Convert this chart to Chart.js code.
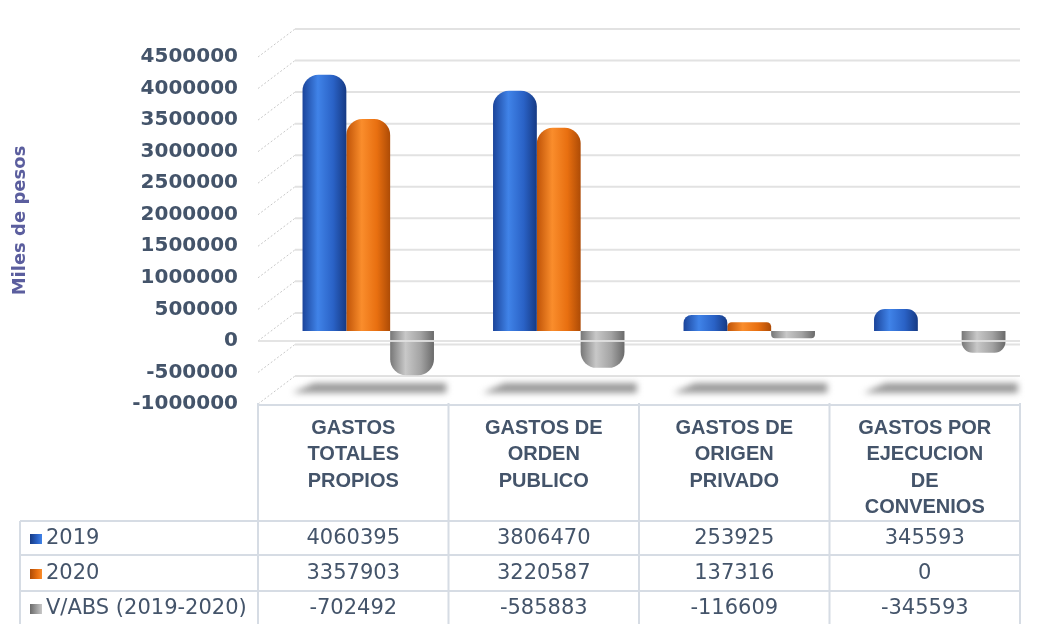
<!DOCTYPE html>
<html>
<head>
<meta charset="utf-8">
<script src="https://cdn.jsdelivr.net/npm/chart.js@4.4.1/dist/chart.umd.min.js"></script>
<style>
  html, body { margin: 0; padding: 0; background: #ffffff; }
  #wrap { width: 1041px; height: 624px; position: relative; }
</style>
</head>
<body>
<div id="wrap"><canvas id="chart-gastos" width="1041" height="624"></canvas></div>
<script>
/* ── Data ─────────────────────────────────────────────────────── */
const categories = [
    ["GASTOS", "TOTALES", "PROPIOS"],
    ["GASTOS DE", "ORDEN", "PUBLICO"],
    ["GASTOS DE", "ORIGEN", "PRIVADO"],
    ["GASTOS POR", "EJECUCION", "DE", "CONVENIOS"],
];
const seriesNames = ["2019", "2020", "V/ABS (2019-2020)"];
const values2019 = [4060395, 3806470, 253925, 345593];
const values2020 = [3357903, 3220587, 137316, 0];
const valuesVabs = [-702492, -585883, -116609, -345593];
const yMin = -1000000;
const yMax = 4500000;
const yStep = 500000;

/* ── Look ─────────────────────────────────────────────────────── */
const TEXT = "#44546a";
const TITLE = "#5b5e9e";
const LINE = "#d6dce4";
const CAT_PCT = 0.69;
const DEPTH_X = 15;      // bar plane sits this far right of the front plane
const DEPTH_Y = 10;      // ... and this far up
const BACK_X = 22;       // back wall offset from the bar plane
const BACK_Y = 18;

const SHADES = [
    { edgeL: "#1b449a", light: "#4083e8", mid: "#2a62c6", edgeR: "#163a84" },
    { edgeL: "#bf5307", light: "#fa8d2c", mid: "#e86f10", edgeR: "#ad4b06" },
    { edgeL: "#777777", light: "#c8c8c8", mid: "#a3a3a3", edgeR: "#6a6a6a" },
];

function barFill(di) {
    const s = SHADES[di];
    return (ctx) => {
        const chart = ctx.chart;
        const x = chart.scales.x;
        if (!chart.chartArea || !x || ctx.type !== "data") return s.mid;
        const band = (x.right - x.left) / categories.length;
        const bw = band * CAT_PCT / 3;
        const cx = x.getPixelForValue(ctx.dataIndex) + (di - 1) * bw;
        const g = chart.ctx.createLinearGradient(cx - bw / 2, 0, cx + bw / 2, 0);
        g.addColorStop(0, s.edgeL);
        g.addColorStop(0.35, s.light);
        g.addColorStop(0.7, s.mid);
        g.addColorStop(1, s.edgeR);
        return g;
    };
}

/* ── 3D-ish walls, floor shadows ──────────────────────────────── */
const wallPlugin = {
    id: "wall",
    beforeDatasetsDraw(chart) {
        const { ctx, scales: { x, y } } = chart;
        const area = chart.chartArea;
        const frontX = area.left - DEPTH_X;
        const backX = area.left + BACK_X;
        const right = area.right - DEPTH_X;
        ctx.save();
        for (let v = yMin; v <= yMax; v += yStep) {
            const py = y.getPixelForValue(v);
            ctx.strokeStyle = "#e2e2e2";
            ctx.lineWidth = 2;
            ctx.beginPath();
            ctx.moveTo(backX, py - BACK_Y);
            ctx.lineTo(right, py - BACK_Y);
            ctx.stroke();
            ctx.setLineDash([2, 2]);
            ctx.lineWidth = 1;
            ctx.strokeStyle = "#c8c8c8";
            ctx.beginPath();
            ctx.moveTo(frontX, py + DEPTH_Y);
            ctx.lineTo(backX, py - BACK_Y);
            ctx.stroke();
            ctx.setLineDash([]);
        }
        // floor shadows
        const band = (x.right - x.left) / categories.length;
        const fy = y.getPixelForValue(yMin) - 6;
        ctx.fillStyle = "#9a9a9a";
        ctx.filter = "blur(3px)";
        categories.forEach((_, i) => {
            const cx = x.getPixelForValue(i);
            const l = cx - band * 0.4, r = cx + band * 0.41;
            ctx.beginPath();
            ctx.moveTo(l + 22, fy - 5);
            ctx.lineTo(r, fy - 5);
            ctx.lineTo(r, fy + 5);
            ctx.lineTo(l, fy + 5);
            ctx.closePath();
            ctx.fill();
        });
        ctx.filter = "none";
        ctx.restore();
    },
    afterDatasetsDraw(chart) {
        const { ctx, scales: { y } } = chart;
        const area = chart.chartArea;
        const py = y.getPixelForValue(0) + DEPTH_Y;
        ctx.save();
        ctx.strokeStyle = "rgba(225,225,225,0.9)";
        ctx.lineWidth = 2;
        ctx.beginPath();
        ctx.moveTo(area.left - DEPTH_X, py);
        ctx.lineTo(area.right - DEPTH_X, py);
        ctx.stroke();
        ctx.restore();
    }
};

/* ── Data table under the plot ────────────────────────────────── */
const tablePlugin = {
    id: "dataTable",
    afterDraw(chart) {
        const { ctx, scales: { x } } = chart;
        const band = (x.right - x.left) / categories.length;
        const edges = categories.map((_, i) => x.getPixelForValue(i) - band / 2 - DEPTH_X);
        edges.push(edges[edges.length - 1] + band);
        const tLeft = 20, tTop = 405, headBottom = 521, rowLines = [521, 555, 591], bottom = 624;
        const rowCenters = [539, 574, 609];
        const rows = [values2019, values2020, valuesVabs];

        ctx.save();
        ctx.strokeStyle = LINE;
        ctx.lineWidth = 2;
        ctx.beginPath();
        ctx.moveTo(edges[0], tTop);
        ctx.lineTo(edges[edges.length - 1], tTop);
        rowLines.forEach(ly => { ctx.moveTo(tLeft, ly); ctx.lineTo(edges[edges.length - 1], ly); });
        edges.forEach(ex => { ctx.moveTo(ex, tTop - 2); ctx.lineTo(ex, bottom); });
        ctx.moveTo(tLeft, headBottom); ctx.lineTo(tLeft, bottom);
        ctx.stroke();

        // header
        ctx.fillStyle = TEXT;
        ctx.textAlign = "center";
        ctx.textBaseline = "middle";
        ctx.font = "bold 20px 'Liberation Sans', Arial, sans-serif";
        categories.forEach((lines, i) => {
            const cx = (edges[i] + edges[i + 1]) / 2;
            lines.forEach((t, k) => ctx.fillText(t, cx, 428 + k * 26.5));
        });

        // values
        ctx.font = "21px 'DejaVu Sans', sans-serif";
        rows.forEach((vals, r) => {
            vals.forEach((v, i) => {
                const cx = (edges[i] + edges[i + 1]) / 2;
                ctx.fillText(String(v), cx, rowCenters[r]);
            });
        });

        // legend keys
        ctx.textAlign = "left";
        seriesNames.forEach((name, r) => {
            const s = SHADES[r];
            const g = ctx.createLinearGradient(30, 0, 42, 0);
            g.addColorStop(0, s.edgeR);
            g.addColorStop(0.6, s.mid);
            g.addColorStop(1, s.light);
            ctx.fillStyle = g;
            ctx.fillRect(30, rowCenters[r] - 5, 12, 10);
            ctx.fillStyle = TEXT;
            ctx.fillText(name, 46, rowCenters[r]);
        });
        ctx.restore();
    }
};

/* ── Chart ────────────────────────────────────────────────────── */
const ctx = document.getElementById("chart-gastos");
new Chart(ctx, {
    type: "bar",
    data: {
        labels: categories.map(c => c.join(" ")),
        datasets: [values2019, values2020, valuesVabs].map((d, i) => ({
            label: seriesNames[i],
            data: d,
            backgroundColor: barFill(i),
            borderWidth: 0,
            borderRadius: 16,
            borderSkipped: "start",
            categoryPercentage: CAT_PCT,
            barPercentage: 1.0,
        })),
    },
    options: {
        responsive: false,
        animation: false,
        devicePixelRatio: 1,
        layout: { padding: { left: 8, right: 6, top: 32, bottom: 230 } },
        plugins: { legend: { display: false }, tooltip: { enabled: false } },
        scales: {
            x: { display: false },
            y: {
                min: yMin,
                max: yMax,
                grid: { display: false, drawTicks: false },
                border: { display: false },
                ticks: {
                    stepSize: yStep,
                    padding: 35,
                    labelOffset: DEPTH_Y,
                    color: TEXT,
                    font: { family: "'DejaVu Sans', sans-serif", size: 20, weight: "bold" },
                    callback: v => String(v),
                },
                title: {
                    display: true,
                    text: "Miles de pesos",
                    color: TITLE,
                    padding: { top: 2, bottom: 0 },
                    font: { family: "'DejaVu Sans', sans-serif", size: 18, weight: "bold" },
                },
                afterFit(scale) { scale.width = 265; },
            },
        },
    },
    plugins: [wallPlugin, tablePlugin],
});
</script>
</body>
</html>
